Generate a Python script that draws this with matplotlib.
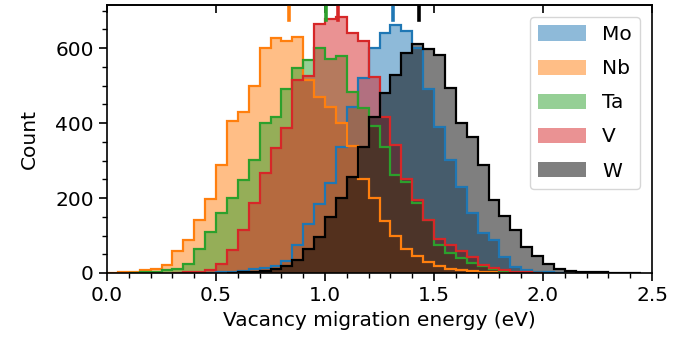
import numpy as np
import matplotlib
matplotlib.use("Agg")
import matplotlib.pyplot as plt
from matplotlib.ticker import MultipleLocator

# Histogram bin edges (eV) shared by all elements
bin_width = 0.05
bin_edges = np.round(np.arange(0.0, 2.5 + bin_width / 2, bin_width), 3)

# Counts per bin, one entry per 0.05 eV bin starting at 0.0 eV
counts_Mo = [0, 0, 0, 0, 0, 0, 0, 0, 0, 1, 2, 3, 6, 10, 14, 20, 32, 75, 130, 185,
             240, 337, 443, 519, 599, 641, 662, 646, 600, 490, 390, 301, 230, 159, 106, 88, 43, 17, 8, 4,
             2, 1, 0, 0, 0, 0, 0, 0, 0, 0]
counts_Nb = [1, 2, 4, 7, 11, 22, 58, 88, 142, 197, 288, 406, 430, 500, 601, 627, 619, 630, 515, 470,
             443, 400, 340, 250, 200, 140, 100, 65, 45, 30, 20, 12, 8, 5, 3, 2, 1, 0, 0, 0,
             0, 0, 0, 0, 0, 0, 0, 0, 0, 0]
counts_Ta = [0, 0, 1, 2, 4, 7, 12, 25, 65, 110, 160, 200, 248, 301, 399, 415, 490, 548, 568, 600,
             572, 580, 482, 440, 393, 337, 261, 243, 186, 141, 75, 53, 40, 28, 18, 10, 6, 3, 2, 1,
             0, 0, 0, 0, 0, 0, 0, 0, 0, 0]
counts_V = [0, 0, 0, 0, 0, 0, 1, 2, 4, 8, 24, 62, 115, 186, 266, 333, 386, 515, 525, 665,
            678, 683, 640, 620, 523, 415, 341, 252, 195, 141, 90, 75, 58, 42, 22, 14, 8, 4, 2, 1,
            0, 0, 0, 0, 0, 0, 0, 0, 0, 0]
counts_W = [0, 0, 0, 0, 0, 0, 0, 0, 0, 0, 0, 1, 2, 4, 6, 10, 20, 35, 65, 97,
            150, 200, 255, 335, 417, 479, 528, 588, 612, 598, 581, 494, 399, 363, 288, 195, 152, 115, 70, 45,
            24, 10, 5, 4, 2, 2, 1, 1, 1, 0]

elements = ["Mo", "Nb", "Ta", "V", "W"]
colors = ["tab:blue", "tab:orange", "tab:green", "tab:red", "black"]
all_counts = [counts_Mo, counts_Nb, counts_Ta, counts_V, counts_W]

# Mean migration energy of each element (eV), marked along the top edge
mean_energy = [1.313, 0.836, 1.005, 1.061, 1.433]

plt.rcParams.update({
    "font.family": "DejaVu Sans",
    "font.size": 14.5,
    "axes.linewidth": 1.2,
})

fig = plt.figure(figsize=(6.92, 3.39), dpi=100)
ax = fig.add_axes([107 / 692, 1 - 273 / 339, 545 / 692, 268 / 339])


def trimmed(counts):
    counts = np.asarray(counts, dtype=float)
    nz = np.nonzero(counts)[0]
    lo, hi = nz[0], nz[-1] + 1
    return counts[lo:hi], bin_edges[lo:hi + 1]


# Translucent filled histograms first, then the outlines on top
for name, color, counts in zip(elements, colors, all_counts):
    vals, edges = trimmed(counts)
    ax.stairs(vals, edges, fill=True, color=color, alpha=0.5, lw=0, label=name)
for color, counts in zip(colors, all_counts):
    vals, edges = trimmed(counts)
    ax.stairs(vals, edges, color=color, lw=1.6)

for color, mean in zip(colors, mean_energy):
    ax.axvline(mean, ymin=0.945, ymax=1.0, color=color, lw=2.6)

ax.set_xlim(0, 2.5)
ax.set_ylim(0, 715)
ax.xaxis.set_major_locator(MultipleLocator(0.5))
ax.xaxis.set_minor_locator(MultipleLocator(0.1))
ax.yaxis.set_major_locator(MultipleLocator(200))
ax.yaxis.set_minor_locator(MultipleLocator(50))
ax.tick_params(which="major", length=6, width=1.2)
ax.tick_params(which="minor", length=3.5, width=1.0)

top = ax.secondary_xaxis("top")
top.xaxis.set_major_locator(MultipleLocator(0.5))
top.tick_params(direction="in", length=6, width=1.2, labeltop=False)

ax.set_xlabel("Vacancy migration energy (eV)", labelpad=4)
ax.set_ylabel("Count", labelpad=12)

leg = ax.legend(loc="upper right", handlelength=2.4, handleheight=0.8,
                labelspacing=0.75, borderaxespad=0.6, fontsize=14.5)

fig.savefig("out.png", dpi=100)
